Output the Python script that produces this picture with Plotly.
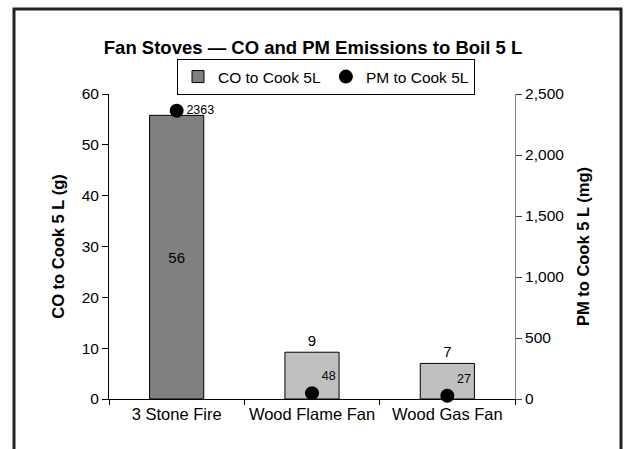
import plotly.graph_objects as go

categories = ["3 Stone Fire", "Wood Flame Fan", "Wood Gas Fan"]
co_values = [55.8, 9.2, 7.0]
pm_values = [2363, 48, 27]
co_name = "CO to Cook 5L"
pm_name = "PM to Cook 5L"
title_text = "Fan Stoves \u2014 CO and PM Emissions to Boil 5 L"
left_title = "CO to Cook 5 L (g)"
right_title = "PM to Cook 5 L (mg)"

FONT = "Arial, Liberation Sans, sans-serif"

fig = go.Figure()
fig.add_trace(go.Bar(
    x=categories, y=co_values, name=co_name,
    marker=dict(color=["#808080", "#C0C0C0", "#C0C0C0"], line=dict(color="black", width=1)),
    text=co_values, texttemplate="%{y:.0f}",
    textposition=["inside", "outside", "outside"], insidetextanchor="middle",
    textfont=dict(family=FONT, size=15, color="black"),
    outsidetextfont=dict(family=FONT, size=15, color="black"),
    insidetextfont=dict(family=FONT, size=15, color="black"),
    cliponaxis=False,
))
fig.add_trace(go.Scatter(
    x=categories, y=pm_values, name=pm_name, yaxis="y2", mode="markers+text",
    marker=dict(color="black", size=14, symbol="circle"),
    text=[str(v) for v in pm_values], textposition=["middle right", "top right", "top right"],
    textfont=dict(family=FONT, size=12.5, color="black"),
    cliponaxis=False,
))

fig.update_layout(
    width=626, height=449,
    margin=dict(l=109, r=111, t=94, b=50, autoexpand=False),
    paper_bgcolor="white", plot_bgcolor="white",
    font=dict(family=FONT, size=15, color="black"),
    bargap=0.6,
    showlegend=True,
    title=dict(text="<b>" + title_text + "</b>", x=0.5, xanchor="center",
               y=1 - 48 / 449, yanchor="middle", font=dict(size=18.5, family=FONT, color="black")),
    legend=dict(orientation="h", x=(326 - 109) / 406, xanchor="center",
                y=(449 - 50 - 59) / 305, yanchor="top",
                bordercolor="black", borderwidth=1, bgcolor="rgba(255,255,255,0)",
                font=dict(size=15.5, family=FONT), itemwidth=30, tracegroupgap=0),
    xaxis=dict(type="category", showline=True, linecolor="black", linewidth=1,
               ticks="outside", ticklen=5, tickson="boundaries", tickcolor="black",
               showgrid=False, range=[-0.5, 2.5], automargin=False,
               tickfont=dict(size=16.5, family=FONT)),
    xaxis2=dict(overlaying="x", anchor="y", side="bottom", range=[-0.5, 2.5],
                tick0=-0.5, dtick=1, ticks="inside", ticklen=5, tickcolor="black",
                showticklabels=False, showline=False, showgrid=False, zeroline=False),
    yaxis=dict(range=[0, 60], dtick=10, showline=True, linecolor="black", linewidth=1,
               ticks="outside", ticklen=6, tickcolor="black", showgrid=False, zeroline=False,
               tickfont=dict(size=15.5, family=FONT), automargin=False,
               title=dict(text="<b>" + left_title + "</b>", font=dict(size=16.5, family=FONT), standoff=12)),
    yaxis3=dict(overlaying="y", anchor="x", side="left", range=[0, 60], dtick=10,
                ticks="inside", ticklen=5, tickcolor="black", showticklabels=False,
                showline=False, showgrid=False, zeroline=False),
    yaxis2=dict(overlaying="y", side="right", anchor="x", range=[0, 2500], dtick=500,
                tickformat=",", showline=True, linecolor="#808080", linewidth=1,
                ticks="outside", ticklen=6, tickcolor="#404040", showgrid=False, zeroline=False,
                tickfont=dict(size=15.5, family=FONT), automargin=False,
                title=dict(text="<b>" + right_title + "</b>", font=dict(size=16.5, family=FONT), standoff=14)),
    yaxis4=dict(overlaying="y", anchor="x", side="right", range=[0, 2500], dtick=500,
                ticks="inside", ticklen=5, tickcolor="#404040", showticklabels=False,
                showline=False, showgrid=False, zeroline=False),
    shapes=[dict(type="rect", xref="paper", yref="paper",
                 x0=(14 - 109) / 406, x1=(621 - 109) / 406,
                 y0=-0.5, y1=(449 - 50 - 9) / 305,
                 line=dict(color="#222222", width=3), fillcolor="rgba(0,0,0,0)", layer="below")],
)

fig.write_html("out.html", config={"displayModeBar": False},
               post_script="document.body.style.margin='0';document.body.style.padding='0';")
